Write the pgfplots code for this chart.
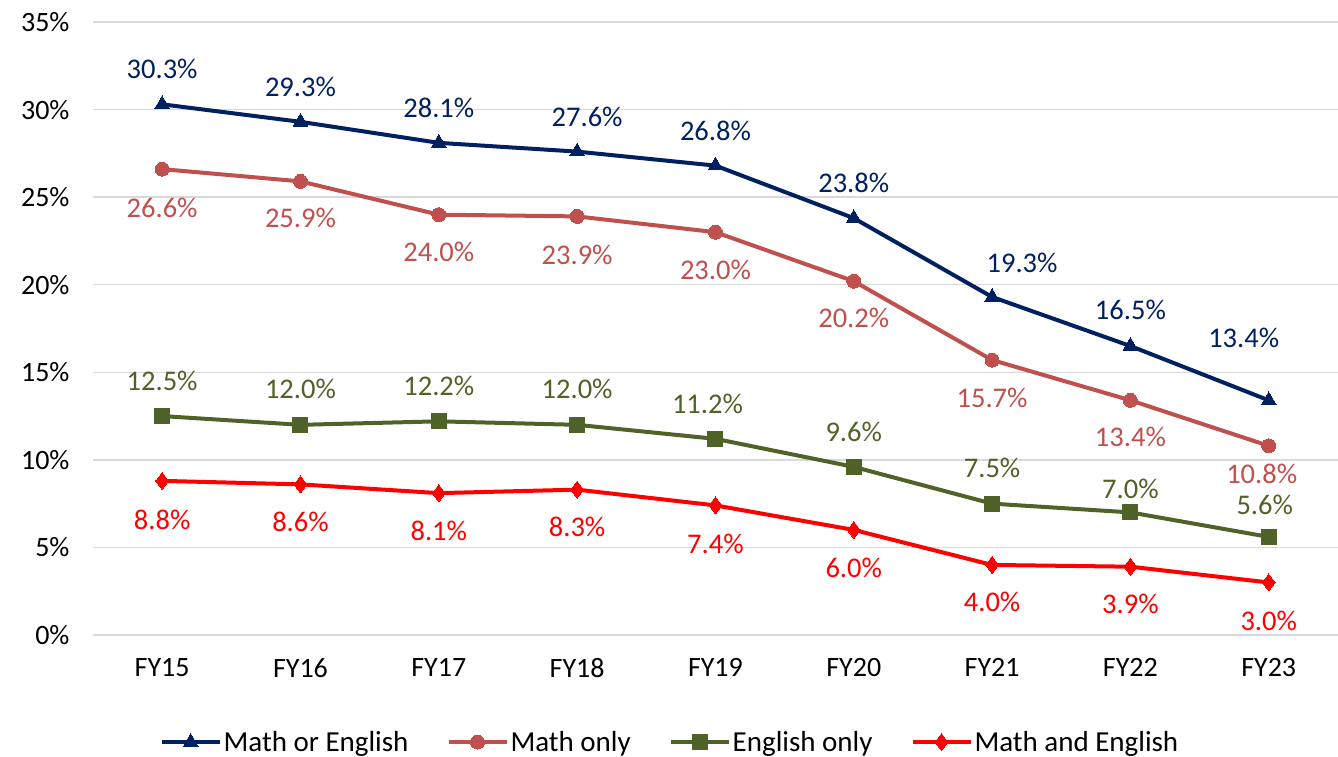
\documentclass[border=0pt]{standalone}
\usepackage{pgfplots}
\pgfplotsset{compat=1.18}
\usepackage{pgfplotstable}
\usepackage{fontspec}
\setmainfont{Carlito}
\definecolor{cnavy}{HTML}{002060}
\definecolor{cmath}{HTML}{C0504D}
\definecolor{ceng}{HTML}{4F6228}
\definecolor{cred}{HTML}{FF0000}
\definecolor{cgrid}{HTML}{D9D9D9}

% x y dx dy (label offsets in pt)
\pgfplotstableread{
x y dx dy
0 30.3 0 35
1 29.3 0 35
2 28.1 0 35
3 27.6 10 35
4 26.8 0 35
5 23.8 0 35
6 19.3 30 34
7 16.5 0 36
8 13.4 -25 62
}\tblA
\pgfplotstableread{
x y dx dy
0 26.6 0 -39
1 25.9 0 -37
2 24.0 0 -37
3 23.9 0 -38
4 23.0 0 -38
5 20.2 0 -37
6 15.7 0 -38
7 13.4 0 -37
8 10.8 -7 -28
}\tblB
\pgfplotstableread{
x y dx dy
0 12.5 0 35
1 12.0 0 36
2 12.2 0 35
3 12.0 0 36
4 11.2 -8 35
5 9.6 0 35
6 7.5 0 36
7 7.0 0 24
8 5.6 -4 32
}\tblC
\pgfplotstableread{
x y dx dy
0 8.8 0 -39
1 8.6 0 -38
2 8.1 0 -38
3 8.3 0 -37
4 7.4 0 -38
5 6.0 0 -38
6 4.0 0 -37
7 3.9 0 -37
8 3.0 0 -38
}\tblD

\begin{document}
\begin{tikzpicture}
\useasboundingbox (0pt,0pt) rectangle (1338pt,756pt);
\begin{axis}[
  at={(93pt,121pt)}, anchor=south west,
  scale only axis, width=1245pt, height=613pt,
  xmin=-0.5, xmax=8.5, ymin=0, ymax=35,
  xtick={0,...,8},
  xticklabels={FY15,FY16,FY17,FY18,FY19,FY20,FY21,FY22,FY23},
  ytick={0,5,...,35},
  yticklabel={\pgfmathprintnumber{\tick}\%},
  /pgf/number format/assume math mode=true,
  ymajorgrids, grid style={cgrid, line width=1.5pt},
  axis line style={draw=none},
  major tick length=0pt,
  tick label style={font=\fontsize{28}{32}\selectfont, text=black},
  xticklabel style={yshift=-20pt},
  yticklabel style={xshift=-20pt},
  clip=false,
  legend columns=4,
  legend style={at={(axis description cs:0.4635,-0.1746)}, anchor=center,
    draw=none, fill=none, font=\fontsize{29}{33}\selectfont,
    /tikz/every even column/.append style={column sep=36pt},
    nodes={inner xsep=2pt}},
  legend image code/.code={
    \draw[mark repeat=2,mark phase=2] plot coordinates {(0pt,0pt) (29pt,0pt) (58pt,0pt)};},
  every axis plot/.append style={line width=4pt},
  nodes near coords={\pgfmathprintnumber[fixed,fixed zerofill,precision=1]{\pgfplotspointmeta}\%},
  visualization depends on={\thisrow{dx} \as \dx},
  visualization depends on={\thisrow{dy} \as \dy},
  every node near coord/.append style={anchor=center, xshift=\dx pt, yshift=\dy pt,
    font=\fontsize{28.5}{32}\selectfont},
]
\addplot[cnavy, mark=triangle*, mark size=8.5pt, mark options={line width=0pt},
  every node near coord/.append style={text=cnavy}] table[x=x,y=y] {\tblA};
\addlegendentry{Math or English}
\addplot[cmath, mark=*, mark size=7pt, mark options={line width=0pt},
  every node near coord/.append style={text=cmath}] table[x=x,y=y] {\tblB};
\addlegendentry{Math only}
\addplot[ceng, mark=square*, mark size=7.5pt, mark options={line width=0pt},
  every node near coord/.append style={text=ceng}] table[x=x,y=y] {\tblC};
\addlegendentry{English only}
\addplot[cred, mark=diamond*, mark size=8.5pt, mark options={line width=0pt},
  every node near coord/.append style={text=cred}] table[x=x,y=y] {\tblD};
\addlegendentry{Math and English}
\end{axis}
\end{tikzpicture}
\end{document}
